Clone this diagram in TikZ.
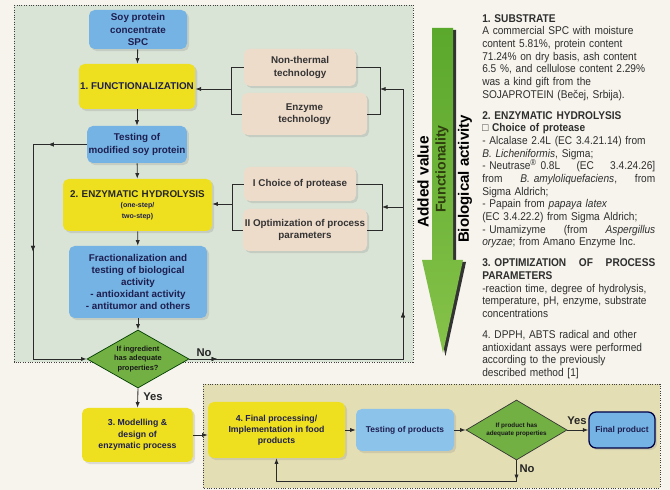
\documentclass[tikz,border=0pt]{standalone}
\usepackage{fontspec}
\setmainfont{Liberation Sans}
\newfontfamily\rtfont[FakeStretch=0.9]{Liberation Sans}
\frenchspacing
\usetikzlibrary{shapes.geometric,arrows.meta,shadows,decorations.markings}

\definecolor{bgc}{HTML}{F6F4EC}
\definecolor{frameA}{HTML}{D9E3D6}
\definecolor{frameB}{HTML}{E4DEB4}
\definecolor{boxblue}{HTML}{74B3E3}
\definecolor{boxblueL}{HTML}{8CC3EA}
\definecolor{boxyel}{HTML}{EEE01F}
\definecolor{boxbeige}{HTML}{EEDCCB}
\definecolor{boxgreen}{HTML}{72B043}
\definecolor{navy}{HTML}{1E1E50}
\definecolor{lnc}{HTML}{2A2A2A}
\definecolor{arrtop}{HTML}{5AA82C}
\definecolor{arrbot}{HTML}{86C24A}
\definecolor{funcc}{HTML}{2F3D0F}
\definecolor{rtc}{HTML}{2E2E2E}

\def\pxu{0.025cm}
\newcommand{\jl}[1]{\makebox[123pt][l]{#1}}

\tikzset{
  basebox/.style={inner sep=1pt, align=center, text=navy,
    font=\bfseries\fontsize{7}{8.8}\selectfont\frenchspacing, rounded corners=4pt,
    drop shadow={opacity=0.22, shadow xshift=1.5pt, shadow yshift=-1.5pt}},
  bluebox/.style={basebox, fill=boxblue},
  blueLbox/.style={basebox, fill=boxblueL},
  yelbox/.style={basebox, fill=boxyel},
  beigebox/.style={basebox, fill=boxbeige, text=black!80},
  decision/.style={diamond, inner sep=0pt, align=center, text=black!90,
    fill=boxgreen, draw=black!60!green!60!black, line width=0.5pt},
  ln/.style={draw=lnc, line width=0.6pt},
  conn/.style={ln, -{Latex[length=4pt,width=3pt]}},
  midarrow/.style={postaction={decorate}, decoration={markings,
    mark=at position #1 with {\arrow{Latex[length=4pt,width=3pt]}}}},
  frame/.style={draw=black!75, densely dotted, line width=0.7pt},
  lbl/.style={font=\bfseries\fontsize{8}{9}\selectfont, text=black!85}
}

\begin{document}
\begin{tikzpicture}[x=0.025cm,y=-0.025cm]
\fill[bgc] (0,0) rectangle (670,490);
\useasboundingbox (0,0) rectangle (670,490);

% frames
\filldraw[frame, fill=frameA] (14,5) rectangle (413,362);
\filldraw[frame, fill=frameB] (203,384) rectangle (660,488);

% big green arrow
\fill[black!80] (435,30) -- (456,30) -- (456,262) -- (466,262) -- (445.5,356) -- (425,262) -- (435,262) -- cycle;
\shade[top color=arrtop, bottom color=arrbot] (432,28) -- (453,28) -- (453,260) -- (463,260) -- (443,353) -- (422,260) -- (432,260) -- cycle;
\node[rotate=90, font=\bfseries\fontsize{11}{13}\selectfont, text=black] (addv) at (423,182) {Added value};
\node[rotate=90, font=\bfseries\fontsize{10}{12}\selectfont, text=funcc] (funcl) at (442,169) {Functionality};
\node[rotate=90, font=\bfseries\fontsize{10.7}{12}\selectfont, text=black] (bioa) at (465,179) {Biological activity};

% left flow
\node[bluebox, minimum width=98*\pxu, minimum height=39*\pxu] (soy) at (138,29.5) {Soy protein\\concentrate\\SPC};
\node[yelbox, minimum width=112*\pxu, minimum height=45*\pxu] (func) at (137,86.5) {1. FUNCTIONALIZATION};
\node[bluebox, minimum width=98*\pxu, minimum height=37*\pxu] (test1) at (137,144.5) {Testing of\\modified soy protein};
\node[yelbox, minimum width=149*\pxu, minimum height=52*\pxu, text width=145*\pxu, text=black!85] (enz) at (137.5,205)
  {2. ENZYMATIC HYDROLYSIS\par{\fontsize{5}{7.6}\selectfont\color{navy}(one-step/\\two-step)\par}};
\node[bluebox, minimum width=138*\pxu, minimum height=72*\pxu, font=\bfseries\fontsize{7}{8.5}\selectfont] (frac) at (138,282)
  {Fractionalization and\\testing of biological\\activity\\- antioxidant activity\\- antitumor and others};
\node[decision, minimum width=102*\pxu, minimum height=58*\pxu, aspect=1.76, font=\bfseries\fontsize{5.3}{7}\selectfont] (dia1) at (138,359)
  {If ingredient\\has adequate\\properties?};

\node[beigebox, minimum width=112*\pxu, minimum height=37*\pxu] (nonth) at (300,67.5) {Non-thermal\\technology};
\node[beigebox, minimum width=125*\pxu, minimum height=42*\pxu] (enzt) at (304.5,114) {Enzyme\\technology};
\node[beigebox, minimum width=112*\pxu, minimum height=34*\pxu] (choice) at (300,184) {I Choice of protease};
\node[beigebox, minimum width=124*\pxu, minimum height=42*\pxu] (optim) at (305,230) {II Optimization of process\\parameters};

% bottom flow
\node[yelbox, minimum width=111*\pxu, minimum height=54*\pxu, font=\bfseries\fontsize{6.2}{8.2}\selectfont] (model) at (137.5,435)
  {3. Modelling \&\\design of\\enzymatic process};
\node[yelbox, minimum width=137*\pxu, minimum height=56*\pxu, font=\bfseries\fontsize{6.2}{8}\selectfont] (fp) at (276.5,430)
  {4. Final processing/\\Implementation in food\\products};
\node[blueLbox, minimum width=98*\pxu, minimum height=42*\pxu, font=\bfseries\fontsize{6}{7.5}\selectfont] (testp) at (405,430) {Testing of products};
\node[decision, minimum width=101*\pxu, minimum height=60*\pxu, aspect=1.7, draw=black!80, font=\bfseries\fontsize{4.5}{6}\selectfont] (dia2) at (516.5,430)
  {If product has\\adequate properties};
\node[basebox, fill=boxblue, draw=black!55!blue!60!black, line width=0.9pt, rounded corners=5pt, minimum width=66*\pxu, minimum height=36*\pxu, font=\bfseries\fontsize{6}{7.5}\selectfont] (finalp) at (622,430) {Final product};

% connectors main chain
\draw[conn] (soy) -- (func);
\draw[conn] (func) -- (test1);
\draw[conn] (test1) -- (enz);
\draw[conn] (enz) -- (frac);
\draw[conn] (frac) -- (dia1);

% brackets top
\coordinate (lb1) at (231,89);
\draw[ln] (nonth.west) -- (nonth.west -| lb1) -- (enzt.west -| lb1) -- (enzt.west);
\draw[conn] (lb1) -- (lb1 -| func.east);
\coordinate (rb1) at (380,89);
\draw[ln] (nonth.east) -- (nonth.east -| rb1) -- (enzt.east -| rb1) -- (enzt.east);
% brackets middle
\coordinate (lb2) at (232,204);
\draw[ln] (choice.west) -- (choice.west -| lb2) -- (optim.west -| lb2) -- (optim.west);
\draw[conn] (lb2) -- (lb2 -| enz.east);
\coordinate (rb2) at (382,207);
\draw[ln] (choice.east) -- (choice.east -| rb2) -- (optim.east -| rb2) -- (optim.east);

% feedback right (No)
\coordinate (rv) at (403,359);
\coordinate (rtop) at (403,89);
\coordinate (rmid) at (403,207);
\draw[conn, midarrow=0.055, midarrow=0.515] (dia1.east) -- (rv) -- (rtop) -- (rb1);
\draw[conn] (rmid) -- (rb2);
\node[lbl] (nolab) at (204,353) {No};

% feedback left
\coordinate (lt) at (33,144.5);
\coordinate (lbm) at (33,359);
\draw[conn, midarrow=0.12, midarrow=0.5] (test1.west) -- (lt) -- (lbm) -- (dia1.west);

% bottom connectors
\draw[conn] (dia1.south) -- (model.north);
\node[lbl] (yes1) at (153,397) {Yes};
\draw[conn] (model.east) -- (model.east -| fp.west);
\draw[conn] (fp.east) -- (testp.west);
\draw[conn] (testp.east) -- (dia2.west);
\draw[conn] (dia2.east) -- (finalp.west);
\node[lbl] (yes2) at (577,421) {Yes};
\coordinate (nb1) at (516.5,481);
\coordinate (nb2) at (276.5,481);
\draw[conn, midarrow=0.07] (dia2.south) -- (nb1) -- (nb2) -- (fp.south);
\node[lbl] (no2) at (527,469) {No};

% right text
\node[anchor=north west, inner sep=0pt, text width=123pt, align=left,
      font=\rtfont\fontsize{8}{9}\selectfont\frenchspacing, text=rtc] (txt) at (482,14) {%
\textbf{1. SUBSTRATE}\\
A commercial SPC with moisture\\
content 5.81\%, protein content\\
71.24\% on dry basis, ash content\\
6.5 \%, and cellulose content 2.29\%\\
was a kind gift from the\\
SOJAPROTEIN (Bečej, Srbija).\\[6pt]
\textbf{2. ENZYMATIC HYDROLYSIS}\\
\textbf{□ Choice of protease}\\
- Alcalase 2.4L (EC 3.4.21.14) from\\
\textit{B. Licheniformis}, Sigma;\\
\jl{- Neutrase\textsuperscript{®} 0.8L\hfill(EC\hfill3.4.24.26]}\\
\jl{from\hfill\textit{B. amyloliquefaciens},\hfill from}\\
Sigma Aldrich;\\
- Papain from \textit{papaya latex}\\
(EC 3.4.22.2) from Sigma Aldrich;\\
\jl{- Umamizyme\hfill(from\hfill\textit{Aspergillus}}\\
\textit{oryzae}; from Amano Enzyme Inc.\\[6pt]
\jl{\textbf{3. OPTIMIZATION\hfill OF\hfill PROCESS}}\\
\textbf{PARAMETERS}\\
\mbox{-reaction time, degree of hydrolysis,}\\
\mbox{temperature, pH, enzyme, substrate}\\
concentrations\\[6pt]
4. DPPH, ABTS radical and other\\
antioxidant assays were performed\\
according to the previously\\
described method [1]};
\end{tikzpicture}
\end{document}
